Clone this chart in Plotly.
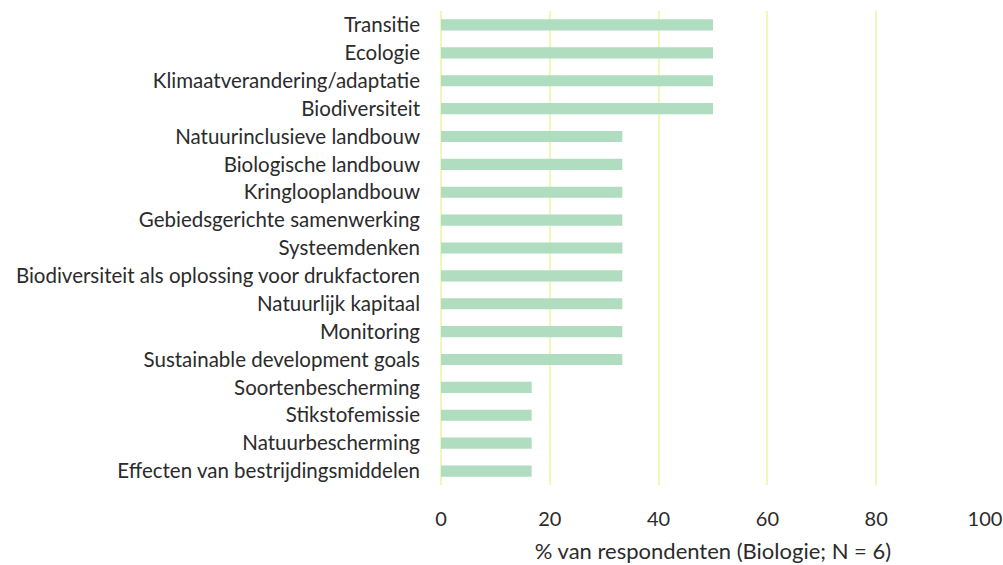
import plotly.graph_objects as go

categories = [
    "Transitie",
    "Ecologie",
    "Klimaatverandering/adaptatie",
    "Biodiversiteit",
    "Natuurinclusieve landbouw",
    "Biologische landbouw",
    "Kringlooplandbouw",
    "Gebiedsgerichte samenwerking",
    "Systeemdenken",
    "Biodiversiteit als oplossing voor drukfactoren",
    "Natuurlijk kapitaal",
    "Monitoring",
    "Sustainable development goals",
    "Soortenbescherming",
    "Stikstofemissie",
    "Natuurbescherming",
    "Effecten van bestrijdingsmiddelen",
]
values = [50, 50, 50, 50,
          33.33, 33.33, 33.33, 33.33, 33.33, 33.33, 33.33, 33.33, 33.33,
          16.67, 16.67, 16.67, 16.67]
tick_vals = [0, 20, 40, 60, 80, 100]

fig = go.Figure(
    go.Bar(
        x=values,
        y=categories,
        orientation="h",
        width=0.4,
        marker=dict(color="#b0dcbf", line=dict(width=0)),
    )
)

fig.update_layout(
    width=1003,
    height=565,
    margin=dict(l=441, r=18, t=11, b=80),
    plot_bgcolor="white",
    paper_bgcolor="white",
    font=dict(family="Lato", size=20, color="#2b2b2b"),
    showlegend=False,
)
fig.update_xaxes(
    range=[0, 100],
    tickvals=tick_vals,
    automargin=False,
    showgrid=True,
    gridcolor="#f2f7b8",
    gridwidth=2,
    zeroline=True,
    zerolinecolor="#f2f7b8",
    zerolinewidth=2,
    showline=False,
    ticks="",
    ticklabelstandoff=20,
    tickfont=dict(size=20),
    title=dict(text="% van respondenten (Biologie; N = 6)", font=dict(size=22), standoff=14),
)
fig.update_yaxes(
    autorange="reversed",
    automargin=False,
    showgrid=False,
    showline=False,
    ticks="",
    ticklabelstandoff=20,
    tickfont=dict(size=20.5),
)

fig.write_html(
    "out.html",
    config={"displayModeBar": False},
    post_script="document.body.style.margin = '0';",
)
